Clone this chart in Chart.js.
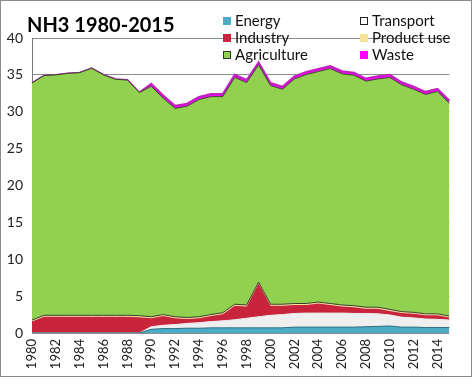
<!DOCTYPE html>
<html>
<head>
<meta charset="utf-8">
<script src="https://cdn.jsdelivr.net/npm/chart.js@4/dist/chart.umd.min.js"></script>
<style>
    body { margin: 0; background: #fff; }
    #box { position: absolute; left: 0; top: 0; width: 472px; height: 377px; box-sizing: border-box; border: 1px solid #8c8c8c; background: #fff; }
    #chart { display: block; }
</style>
</head>
<body>
<div id="box"><canvas id="chart" width="470" height="375"></canvas></div>
<script>
const years = [];
for (let y = 1980; y <= 2015; y++) years.push(String(y));

const energy = [0, 0, 0, 0, 0, 0, 0, 0, 0, 0, 0.5, 0.6, 0.6, 0.65, 0.65, 0.7, 0.7, 0.7, 0.7, 0.7,
    0.7, 0.7, 0.8, 0.8, 0.8, 0.8, 0.8, 0.8, 0.85, 0.9, 0.95, 0.8, 0.8, 0.75, 0.75, 0.75];
const transport = [0, 0, 0, 0, 0, 0, 0, 0, 0, 0, 0.35, 0.45, 0.55, 0.65, 0.75, 0.85, 0.95, 1.1, 1.3, 1.5,
    1.7, 1.8, 1.85, 1.9, 1.9, 1.9, 1.9, 1.85, 1.8, 1.7, 1.5, 1.35, 1.25, 1.15, 1.1, 1.0];
const industry = [1.55, 2.2, 2.2, 2.2, 2.2, 2.2, 2.2, 2.2, 2.2, 2.15, 1.15, 1.25, 0.85, 0.6, 0.6, 0.75, 0.9, 1.9, 1.6, 4.5,
    1.3, 1.2, 1.15, 1.1, 1.3, 1.1, 0.9, 0.85, 0.65, 0.7, 0.55, 0.55, 0.55, 0.5, 0.55, 0.35];
const productUse = [0.2, 0.2, 0.2, 0.2, 0.2, 0.2, 0.2, 0.2, 0.2, 0.2, 0.2, 0.2, 0.2, 0.2, 0.2, 0.2, 0.2, 0.2, 0.2, 0.2,
    0.2, 0.2, 0.2, 0.2, 0.2, 0.2, 0.2, 0.2, 0.2, 0.2, 0.2, 0.2, 0.2, 0.2, 0.2, 0.2];
const agriculture = [32.15, 32.5, 32.6, 32.8, 32.9, 33.5, 32.6, 32.0, 31.9, 30.25, 31.25, 29.35, 28.25, 28.65, 29.45, 29.55, 29.3, 30.75, 30.15, 29.45,
    29.65, 29.15, 30.45, 31.05, 31.25, 31.85, 31.35, 31.25, 30.65, 30.95, 31.45, 30.75, 30.25, 29.75, 30.15, 28.85];
const waste = [0, 0, 0, 0, 0, 0, 0, 0, 0, 0, 0.35, 0.35, 0.35, 0.35, 0.35, 0.35, 0.35, 0.35, 0.35, 0.35,
    0.35, 0.35, 0.35, 0.35, 0.35, 0.35, 0.35, 0.35, 0.35, 0.35, 0.35, 0.35, 0.35, 0.35, 0.35, 0.35];
const yTicks = [0, 5, 10, 15, 20, 25, 30, 35, 40];

const FONT = 'Lato, "Open Sans", sans-serif';

function area(label, data, fillColor, lineColor, lineWidth, fill) {
    return {
        label: label,
        data: data,
        backgroundColor: fillColor,
        borderColor: lineColor,
        borderWidth: lineWidth,
        fill: fill,
        pointRadius: 0,
        tension: 0
    };
}

// легенда и заголовок рисуются вручную поверх графика
const legendItems = [
    { text: 'Energy', color: '#4bacc6', edge: null, x: 222, y: 20 },
    { text: 'Transport', color: '#ffffff', edge: '#222', x: 359, y: 20 },
    { text: 'Industry', color: '#c8243c', edge: null, x: 222, y: 37 },
    { text: 'Product use', color: '#f5e39b', edge: null, x: 359, y: 37 },
    { text: 'Agriculture', color: '#92d050', edge: '#333', x: 222, y: 54 },
    { text: 'Waste', color: '#ff00ff', edge: null, x: 359, y: 54 }
];

const overlay = {
    id: 'overlay',
    afterDraw(chart) {
        const ctx = chart.ctx;
        ctx.save();
        ctx.fillStyle = '#000';
        ctx.font = 'bold 20px ' + FONT;
        ctx.textBaseline = 'alphabetic';
        ctx.textAlign = 'left';
        ctx.fillText('NH3 1980-2015', 26, 31);

        ctx.font = '15px ' + FONT;
        ctx.textBaseline = 'middle';
        legendItems.forEach(it => {
            ctx.fillStyle = it.color;
            ctx.fillRect(it.x, it.y - 4, 8, 8);
            if (it.edge) {
                ctx.strokeStyle = it.edge;
                ctx.lineWidth = 1;
                ctx.strokeRect(it.x + 0.5, it.y - 3.5, 7, 7);
            }
            ctx.fillStyle = '#111';
            ctx.fillText(it.text, it.x + 12, it.y);
        });
        ctx.restore();
    }
};

document.addEventListener('DOMContentLoaded', () => {
    const el = document.getElementById('chart');
    new Chart(el.getContext('2d'), {
        type: 'line',
        data: {
            labels: years,
            datasets: [
                area('Energy', energy, '#4bacc6', '#2f6f80', 1, 'origin'),
                area('Transport', transport, '#efefef', '#e6e6e6', 1, '-1'),
                area('Industry', industry, '#c8243c', '#c8243c', 0, '-1'),
                area('Product use', productUse, '#f5e39b', '#3a3a2a', 1, '-1'),
                area('Agriculture', agriculture, '#92d050', '#3a4a28', 1, '-1'),
                area('Waste', waste, '#ff00ff', '#c020c0', 2, '-1')
            ]
        },
        plugins: [overlay],
        options: {
            responsive: false,
            animation: false,
            layout: { padding: { top: 37, right: 9, left: 0, bottom: 0 } },
            plugins: {
                legend: { display: false },
                tooltip: { enabled: false }
            },
            scales: {
                x: {
                    offset: false,
                    grid: { display: false, drawTicks: false },
                    border: { display: false },
                    ticks: {
                        autoSkip: false,
                        minRotation: 90,
                        maxRotation: 90,
                        padding: 6,
                        color: '#222',
                        font: { family: FONT, size: 13 },
                        callback: function(value, index) {
                            return index % 2 === 0 ? years[index] : '';
                        }
                    },
                    afterFit: function(scale) { scale.height = 43; }
                },
                y: {
                    stacked: true,
                    min: 0,
                    max: 40,
                    afterBuildTicks: function(scale) {
                        scale.ticks = yTicks.map(v => ({ value: v }));
                    },
                    grid: { color: '#8c8c8c', drawTicks: false },
                    border: { display: true, color: '#7a7a7a' },
                    ticks: {
                        padding: 9,
                        color: '#222',
                        font: { family: FONT, size: 14 }
                    },
                    afterFit: function(scale) { scale.width = 31; }
                }
            }
        }
    });
});
</script>
</body>
</html>
